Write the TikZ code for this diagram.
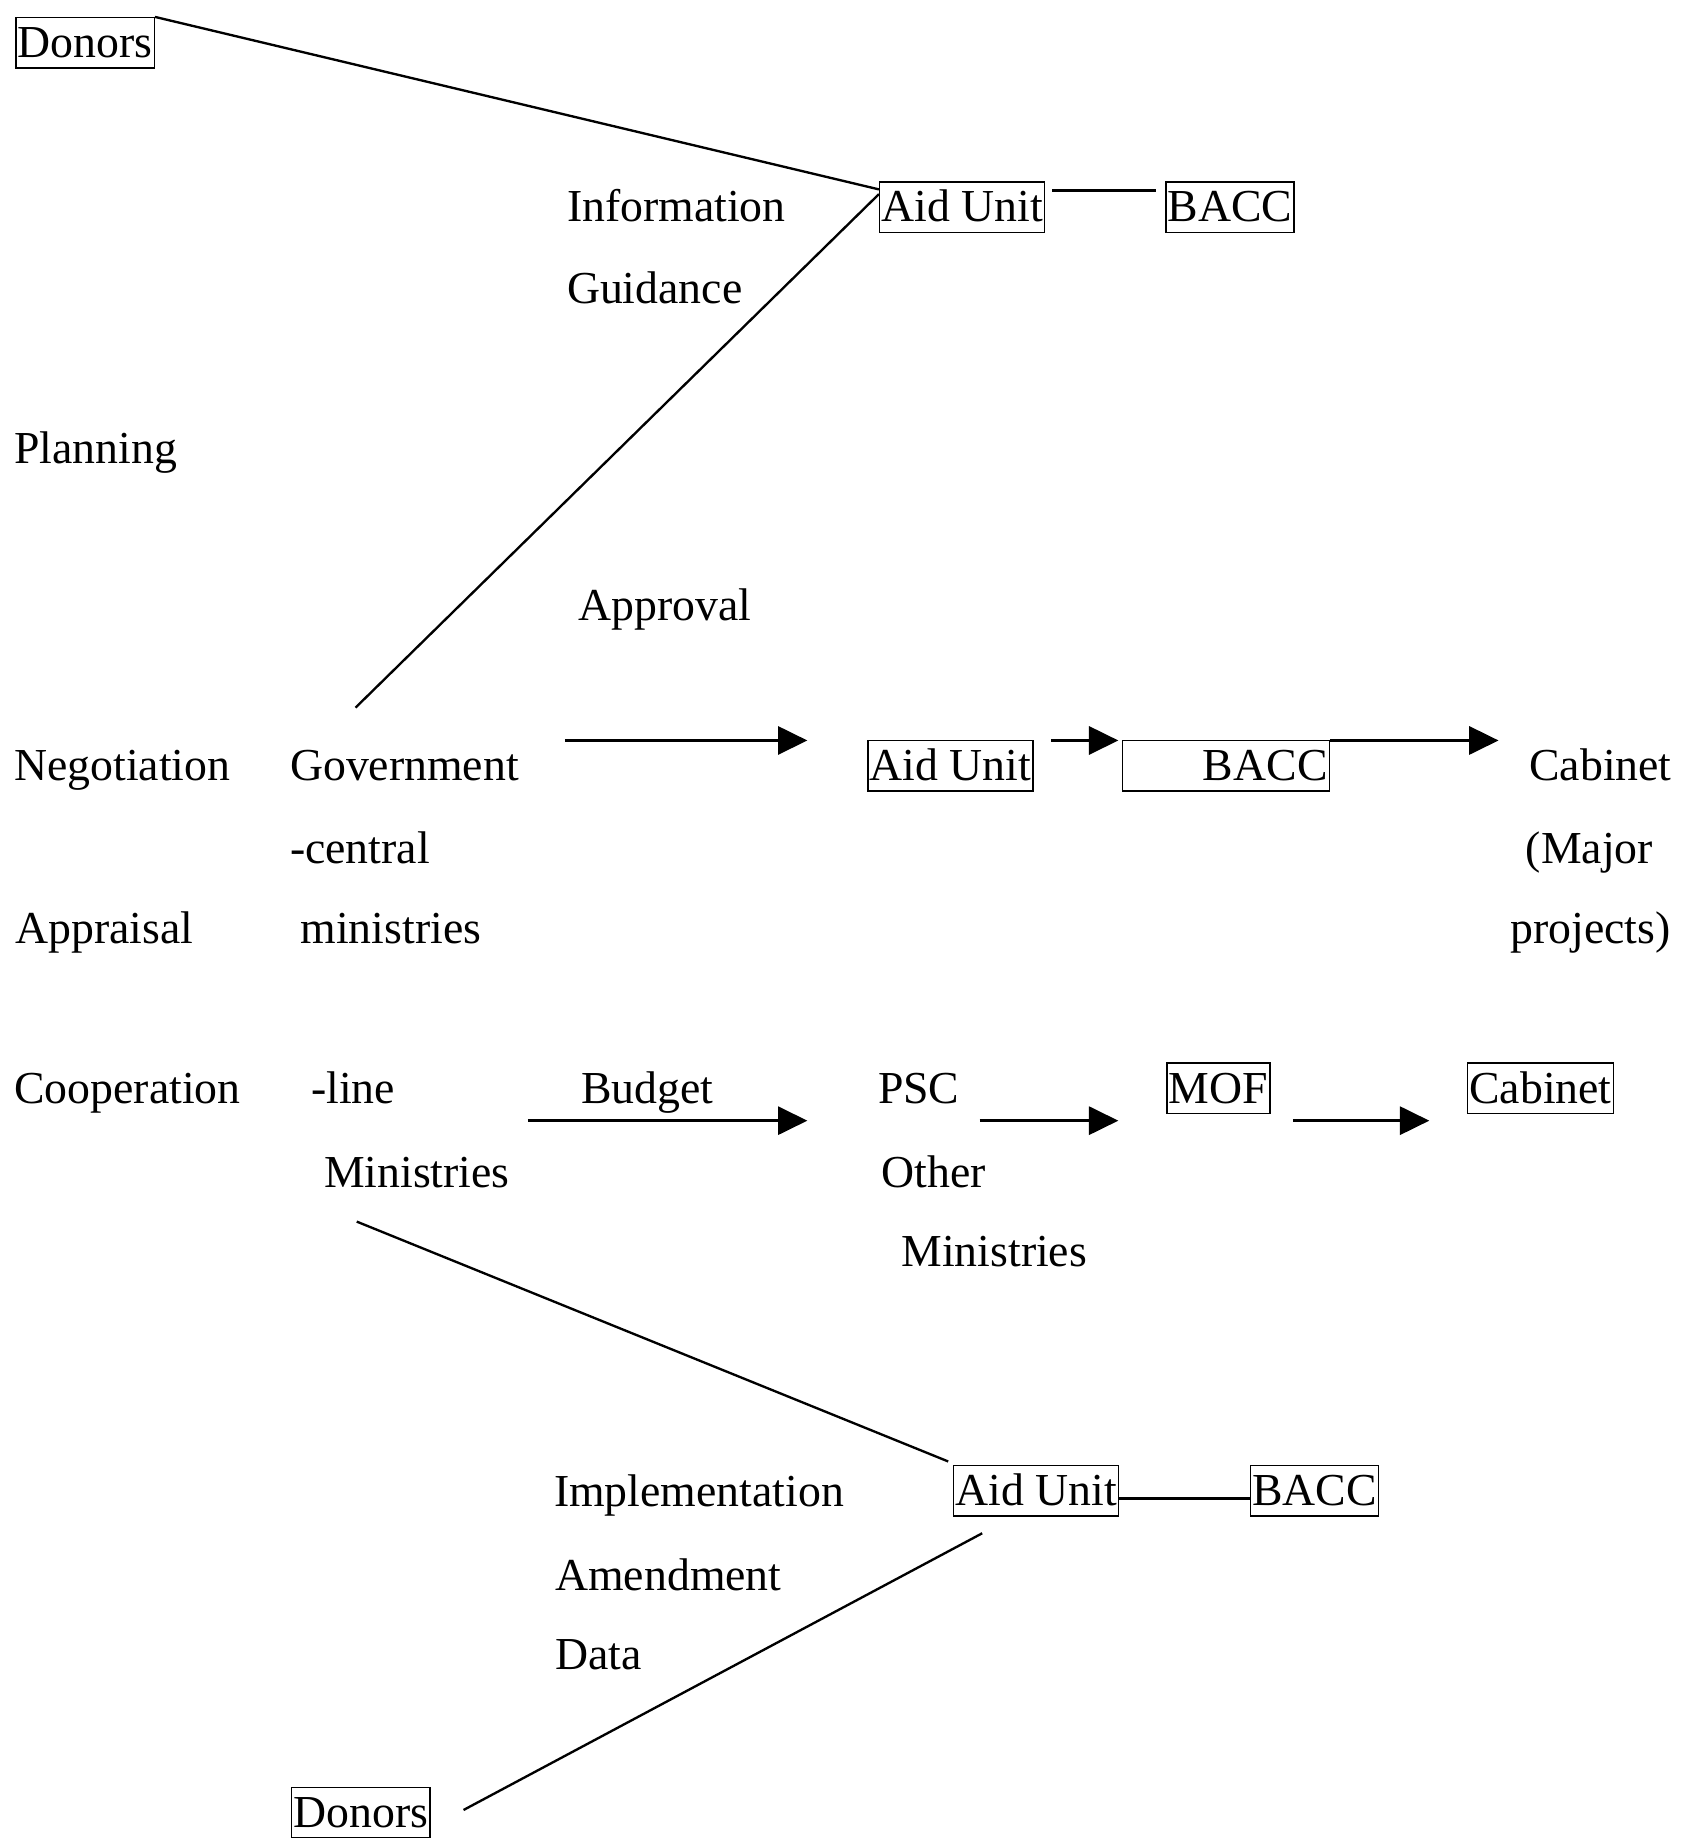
\documentclass[tikz,border=0pt]{standalone}
\usepackage{fontspec}
\setmainfont{Liberation Serif}
\usetikzlibrary{calc,arrows.meta}
\begin{document}
\begin{tikzpicture}[x=1pt,y=-1pt,
 lbl/.style={anchor=base west, inner sep=0pt, font=\fontsize{39pt}{45pt}\selectfont},
 bx/.style={lbl, draw, line width=1.2pt, inner xsep=1.5pt, text height=34pt, text depth=9pt},
 ln/.style={line width=2pt},
 arr/.style={line width=2.2pt, -{Triangle[length=25pt,width=24pt]}}]
\useasboundingbox[fill=white] (0,0) rectangle (1433,1568);
% top
\node[bx] (don1) at (13,49) {Donors};
\node[bx] (aid1) at (749,189) {Aid Unit};
\node[bx] (bacc1) at (993,189) {BACC};
\node[lbl] (info) at (483,189) {Information};
\node[lbl] (guid) at (483,259) {Guidance};
\node[lbl] (plan) at (12,395) {Planning};
\node[lbl] (appr) at (493,529) {Approval};
% middle
\node[lbl] (nego) at (12,665) {Negotiation};
\node[lbl] (gov) at (247,665) {Government};
\node[lbl] (cent) at (247,736) {-central};
\node[lbl] (mini) at (256,804) {ministries};
\node[lbl] (apprs) at (13,804) {Appraisal};
\node[bx] (aid2) at (739,665) {Aid Unit};
\node[bx] (bacc2) at (956,665) {\hspace*{67pt}BACC};
\node[lbl] (cab1) at (1303,665) {Cabinet};
\node[lbl] (major) at (1300,736) {(Major};
\node[lbl] (proj) at (1287,804) {projects)};
% budget row
\node[lbl] (coop) at (12,940) {Cooperation};
\node[lbl] (line) at (265,940) {-line};
\node[lbl] (budg) at (495,940) {Budget};
\node[lbl] (psc) at (748,940) {PSC};
\node[bx] (mof) at (994,940) {MOF};
\node[bx] (cab2) at (1250,940) {Cabinet};
\node[lbl] (min1) at (276,1012) {Ministries};
\node[lbl] (oth) at (751,1012) {Other};
\node[lbl] (min2) at (768,1079) {Ministries};
% bottom
\node[bx] (aid3) at (812,1283) {Aid Unit};
\node[bx] (bacc3) at (1065,1283) {BACC};
\node[lbl] (impl) at (472,1284) {Implementation};
\node[lbl] (amen) at (473,1355) {Amendment};
\node[lbl] (data) at (473,1423) {Data};
\node[bx] (don2) at (248,1557) {Donors};
% connectors
\coordinate (gtop) at ($(gov.base west)+(56,-62)$);
\coordinate (lm) at ($(min1.base west)+(28,29)$);
\draw[ln] (don1.north east) -- ([yshift=-7pt]aid1.north west);
\draw[ln] ([yshift=-11pt]aid1.north west) -- (gtop);
\draw[ln] ($(aid1.north east)+(6,8)$) -- ($(bacc1.north west)+(-8,8)$);
\draw[arr] ($(gov.base east)+(39,-34)$) -- ($(aid2.base west)+(-51,-34)$);
\draw[arr] ($(aid2.base east)+(15,-34)$) -- ($(bacc2.base west)+(-3,-34)$);
\draw[arr] ($(bacc2.base east)+(0,-34)$) -- ($(cab1.base west)+(-26,-34)$);
\draw[arr] ($(line.base east)+(113,15)$) -- ($(psc.base west)+(-60,15)$);
\draw[arr] ($(psc.base east)+(17,15)$) -- ($(mof.base west)+(-41,15)$);
\draw[arr] ($(mof.base east)+(19,15)$) -- ($(cab2.base west)+(-32,15)$);
\draw[ln] (lm) -- ($(aid3.north west)+(-4,-3)$);
\draw[ln] ($(aid3.base east)+(0,-6)$) -- ($(bacc3.base west)+(0,-6)$);
\draw[ln] ($(aid3.south west)+(25,14)$) -- ($(don2.north east)+(28,20)$);
\end{tikzpicture}
\end{document}
